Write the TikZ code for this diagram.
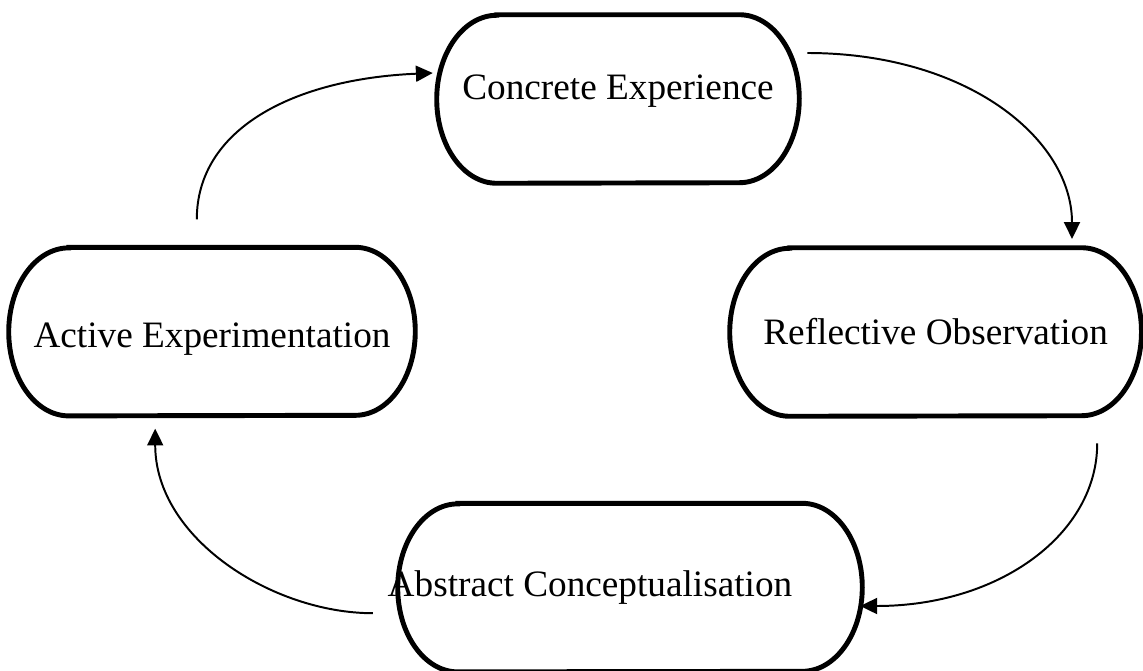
\documentclass[tikz,border=0pt]{standalone}
\usepackage{fontspec}
\setmainfont{Liberation Serif}
\usetikzlibrary{arrows.meta}

\begin{document}
\begin{tikzpicture}[
    stage/.style={rectangle, inner sep=0pt, minimum height=4.2cm, font=\fontsize{26.5}{30}\selectfont},
    outline/.style={line width=3.5pt},
    flow/.style={line width=1.4pt, -{Triangle[length=0.42cm,width=0.4cm]}}
  ]
    \useasboundingbox (0,0) rectangle (28.575,-16.775);
    \node[stage, minimum width=9.05cm, text height=0.3cm, text depth=0.25cm] (ce) at (15.45,-2.475) {Concrete Experience};
    \node[stage, minimum width=10.28cm] (ro) at (23.39,-8.3) {Reflective Observation};
    \node[stage, minimum width=11.6cm] (ac) at (15.75,-14.69) {\hspace*{-2cm}Abstract Conceptualisation};
    \node[stage, minimum width=10.15cm, text height=0.78cm, text depth=0cm] (ae) at (5.3,-8.29) {Active Experimentation};
    % stadium outlines
    \foreach \n in {ce,ro,ac,ae}
    \draw[outline] ([xshift=1.5cm]\n.north west) -- ([xshift=-1.5cm]\n.north east)
      arc[start angle=90, end angle=-90, x radius=1.5cm, y radius=2.1cm]
      -- ([xshift=1.5cm]\n.south west)
      arc[start angle=270, end angle=90, x radius=1.5cm, y radius=2.1cm] -- cycle;
    % the cycle
    \draw[flow] ([shift={(0.2,1.15)}]ce.east) .. controls +(4,0) and +(0,2.5) .. ([shift={(3.41,0.22)}]ro.north);
    \draw[flow] ([shift={(4.04,-0.68)}]ro.south) .. controls +(0,-2.25) and +(3.5,0) .. ([shift={(-0.05,-0.46)}]ac.east);
    \draw[flow] ([shift={(-0.62,-0.64)}]ac.west) .. controls +(-2.5,0) and +(0,-2.75) .. ([shift={(-1.42,-0.32)}]ae.south);
    \draw[flow] ([shift={(-0.38,0.7)}]ae.north) .. controls +(0,2.25) and +(-3.5,-0.15) .. ([shift={(-0.1,0.65)}]ce.west);
\end{tikzpicture}
\end{document}
